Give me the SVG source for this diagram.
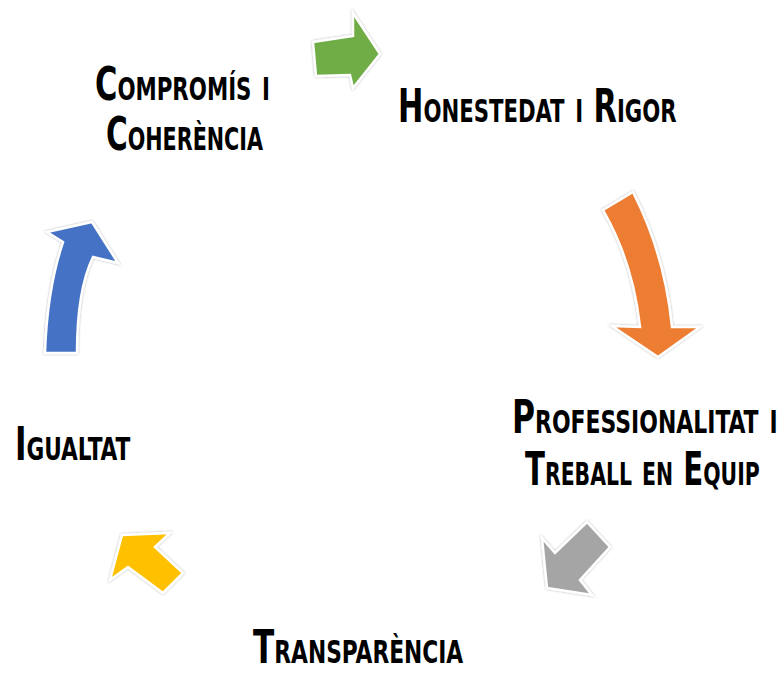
<svg xmlns="http://www.w3.org/2000/svg" width="784" height="673" viewBox="0 0 784 673">
<defs>
<filter id="sh" x="-20%" y="-20%" width="140%" height="140%">
<feDropShadow dx="0" dy="0" stdDeviation="1.2" flood-color="#000" flood-opacity="0.35"/>
</filter>
<style>
.a{stroke:#fff;stroke-width:2.5;stroke-linejoin:miter;filter:url(#sh)}
.t{font-family:"DejaVu Sans Condensed","DejaVu Sans","Liberation Sans",sans-serif;font-weight:bold;font-size:46px;font-variant:small-caps;fill:#000}
</style>
</defs>
<rect width="784" height="673" fill="#fff"/>
<g id="connectors">
<path class="a" fill="#70AD47" d="M313,42 L353,36 L353,13 L380,54 L353,88 L350,75 L316,76 Z"/>
<path class="a" fill="#ED7D31" d="M603,210 L633,192 Q665,255 672,327 L700,327 L658,357 L612,326 L640,327 Q633,262 603,210 Z"/>
<path class="a" fill="#A5A5A5" d="M587,522 L610,547 L580,580 L592,595 L547,588 L542,538 L555,553 Z"/>
<path class="a" fill="#FFC000" d="M122,535 L170,533 L155,547 L183,573 L163,593 L128,567 L110,580 Z"/>
<path class="a" fill="#4472C4" d="M45,353 L77,353 Q77,290 93,257 L118,263 L92,222 L47,232 L63,242 Q47,290 45,353 Z"/>
</g>
<g id="n1">
<text class="t" transform="translate(95,100) scale(0.72,1)" textLength="243" lengthAdjust="spacingAndGlyphs">Compromís i</text>
<text class="t" transform="translate(106,150) scale(0.72,1)" textLength="218" lengthAdjust="spacingAndGlyphs">Coherència</text>
</g>
<g id="n2">
<text class="t" transform="translate(398,122) scale(0.72,1)" textLength="387" lengthAdjust="spacingAndGlyphs">Honestedat i Rigor</text>
</g>
<g id="n3">
<text class="t" transform="translate(512,433) scale(0.72,1)" textLength="369" lengthAdjust="spacingAndGlyphs">Professionalitat i</text>
<text class="t" transform="translate(525,485) scale(0.72,1)" textLength="326" lengthAdjust="spacingAndGlyphs">Treball en Equip</text>
</g>
<g id="n4">
<text class="t" transform="translate(253,663) scale(0.72,1)" textLength="292" lengthAdjust="spacingAndGlyphs">Transparència</text>
</g>
<g id="n5">
<text class="t" transform="translate(15,460) scale(0.72,1)" textLength="160" lengthAdjust="spacingAndGlyphs">Igualtat</text>
</g>
</svg>
